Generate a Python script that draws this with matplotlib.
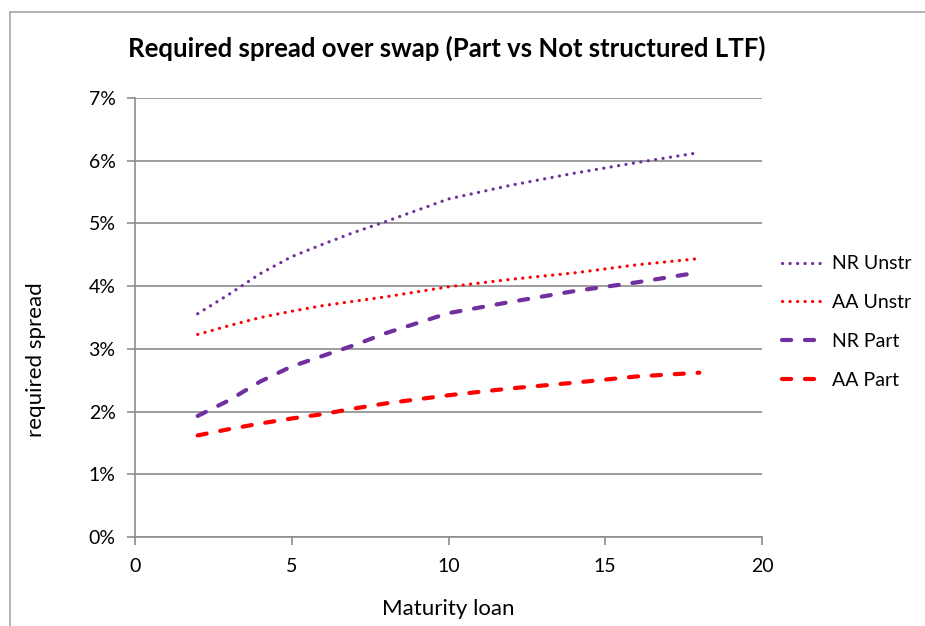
import matplotlib
matplotlib.use("Agg")
import matplotlib.pyplot as plt
from matplotlib.lines import Line2D
from matplotlib.ticker import FuncFormatter, MultipleLocator

maturity = [2, 3, 4, 5, 6, 7, 8, 10, 12, 14, 16, 18]
nr_unstr = [3.56, 3.87, 4.20, 4.47, 4.67, 4.86, 5.03, 5.39, 5.61, 5.80, 5.97, 6.13]
aa_unstr = [3.23, 3.37, 3.50, 3.60, 3.69, 3.76, 3.83, 3.99, 4.11, 4.21, 4.34, 4.44]
nr_part = [1.93, 2.18, 2.48, 2.72, 2.89, 3.06, 3.25, 3.57, 3.75, 3.92, 4.06, 4.22]
aa_part = [1.62, 1.72, 1.81, 1.89, 1.96, 2.05, 2.13, 2.26, 2.37, 2.46, 2.56, 2.62]

title = "Required spread over swap (Part vs Not structured LTF)"
xlabel = "Maturity loan"
ylabel = "required spread"
labels = ["NR Unstr", "AA Unstr", "NR Part", "AA Part"]

purple = "#7030a0"
red = "#ff0000"
grid_c = "#8c8c8c"

plt.rcParams['font.family'] = ['Lato', 'DejaVu Sans']

fig = plt.figure(figsize=(9.25, 6.26), dpi=100)
ax = fig.add_axes([135/925, 1-537/626, (762-135)/925, (537-98)/626])

dot = dict(lw=2.3, linestyle=(0, (0.05, 2.3)), dash_capstyle='round')
dash = dict(lw=3.0, linestyle=(0, (2.2, 3.3)), dash_capstyle='round')

ax.plot(maturity, nr_unstr, color=purple, **dot)
ax.plot(maturity, aa_unstr, color=red, **dot)
ax.plot(maturity, nr_part, color=purple, **dash)
ax.plot(maturity, aa_part, color=red, **dash)

ax.set_xlim(0, 20)
ax.set_ylim(0, 7)
ax.xaxis.set_major_locator(MultipleLocator(5))
ax.yaxis.set_major_locator(MultipleLocator(1))
ax.yaxis.set_major_formatter(FuncFormatter(lambda v, p: f"{v:.0f}%"))
ax.grid(axis='y', color=grid_c, lw=1.2)
ax.set_axisbelow(True)
for s in ['top', 'right']:
    ax.spines[s].set_visible(False)
for s in ['left', 'bottom']:
    ax.spines[s].set_color(grid_c)
    ax.spines[s].set_linewidth(1.2)
ax.tick_params(axis='both', colors=grid_c, length=6, width=1.2, labelcolor='black', labelsize=14)
ax.tick_params(axis='x', pad=9)
ax.tick_params(axis='y', pad=8)

ax.set_xlabel(xlabel, fontsize=16)
ax.xaxis.set_label_coords(0.5, -(599-537)/439)
ax.set_ylabel(ylabel, fontsize=16)
ax.yaxis.set_label_coords(-(135-46)/627, (537-360)/439)

fig.text(447/925, 1-48/626, title, fontsize=18.5, fontweight='bold', ha='center', va='center')

handles = [Line2D([], [], color=purple, **dot),
           Line2D([], [], color=red, **dot),
           Line2D([], [], color=purple, **dash),
           Line2D([], [], color=red, **dash)]
fig.legend(handles, labels,
           loc='center left', bbox_to_anchor=(782/925, 1-322/626), frameon=False,
           borderaxespad=0, borderpad=0,
           fontsize=14, handlelength=2.05, labelspacing=1.12, handletextpad=0.5)

border = "#a6a6a6"
fig.add_artist(Line2D([10/925, 1], [1-12/626, 1-12/626], transform=fig.transFigure, color=border, lw=1.2))
fig.add_artist(Line2D([10/925, 10/925], [0, 1-12/626], transform=fig.transFigure, color=border, lw=1.2))

fig.savefig("out.png", dpi=100)
